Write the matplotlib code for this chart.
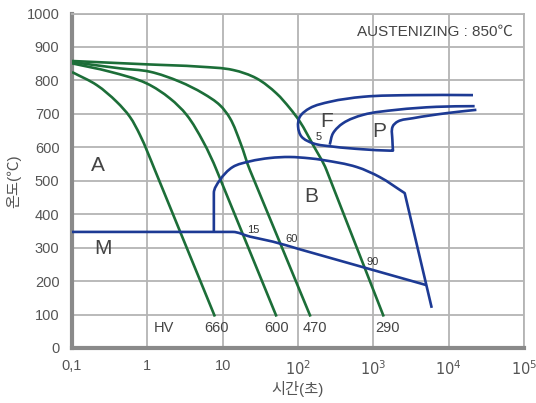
#!/usr/bin/env python3

import numpy as np
import matplotlib
matplotlib.use("Agg")
import matplotlib.pyplot as plt
from matplotlib.path import Path
from matplotlib.patches import PathPatch
from matplotlib.ticker import FixedLocator, NullLocator

matplotlib.rcParams["font.family"] = ["Liberation Sans", "Noto Sans CJK KR", "DejaVu Sans"]

green = "#1c6e38"
blue = "#1d3a94"
gray = "#555555"

# cooling curves (time s, temperature C)
t_290 = [0.1, 0.98, 4.99, 13.8, 28.2, 51.9, 77.8, 105.7, 158.5, 238.8, 1374]
T_290 = [858, 848, 841, 831, 806, 761, 717, 677, 607, 532, 94]
t_470 = [0.1, 0.434, 1.08, 2.70, 5.51, 9.18, 12.5, 17.3, 23.0, 146.6]
T_470 = [855, 836, 826, 796, 761, 726, 687, 612, 532, 94]
t_600 = [0.1, 0.319, 0.98, 2.0, 3.32, 5.51, 8.30, 51.9]
T_600 = [851, 826, 791, 746, 697, 617, 532, 94]
t_660 = [0.1, 0.213, 0.392, 0.587, 0.798, 1.26, 7.89]
T_660 = [825, 786, 736, 691, 637, 532, 94]

# transformation lines
t_ms = [0.1, 13.6, 23.0, 46.3, 105.7, 5058]
T_ms = [347, 347, 333, 318, 295, 188]
t_bain = [7.64, 7.64, 9.18, 13.6, 23.0, 42.3, 77.8, 143.5, 213, 603, 1216, 2610, 5058, 5957]
T_bain = [347, 463, 502, 541, 558, 568, 571, 567, 562, 541, 511, 463, 188, 120]
t_ferr = [21040, 3365, 731, 264, 143.5, 105.7, 100.3, 111.3, 158.5, 292, 731, 1651,
          1824, 1791, 1806, 2108, 3365, 9330, 23330]
T_ferr = [756, 756, 751, 736, 717, 691, 662, 632, 612, 602, 594, 590,
          590, 622, 662, 677, 687, 702, 712]
t_pear = [264, 292, 396, 731, 2028, 6871, 22130]
T_pear = [608, 642, 672, 697, 712, 721, 723]

xticks = [0.1, 1, 10, 1e2, 1e3, 1e4, 1e5]
xlabels = ["0,1", "1", "10", "$10^2$", "$10^3$", "$10^4$", "$10^5$"]
yticks = list(range(0, 1001, 100))

hv_labels = ["HV", "660", "600", "470", "290"]
hv_x = [1.66, 8.38, 52.4, 167, 1528]


def unit(v):
    n = np.hypot(v[0], v[1])
    return v / n if n > 0 else v


def smooth(t, T, straight=(), corners=()):
    # bezier through the read points, built in (log t, scaled T) space
    P = np.column_stack([np.log10(t), np.asarray(T, float) / 225.0])
    n = len(P)
    e = [unit(P[i + 1] - P[i]) for i in range(n - 1)]
    L = [np.hypot(*(P[i + 1] - P[i])) for i in range(n - 1)]
    tin = [None] * n
    tout = [None] * n
    for i in range(n):
        if i == 0:
            tin[i] = tout[i] = e[0]
        elif i == n - 1:
            tin[i] = tout[i] = e[-1]
        elif i in corners:
            tin[i], tout[i] = e[i - 1], e[i]
        elif (i - 1) in straight:
            tin[i] = tout[i] = e[i - 1]
        elif i in straight:
            tin[i] = tout[i] = e[i]
        else:
            tin[i] = tout[i] = unit(e[i - 1] + e[i])
    verts = [P[0]]
    codes = [Path.MOVETO]
    for i in range(n - 1):
        if i in straight:
            verts.append(P[i + 1])
            codes.append(Path.LINETO)
        else:
            verts += [P[i] + tout[i] * L[i] / 3, P[i + 1] - tin[i + 1] * L[i] / 3, P[i + 1]]
            codes += [Path.CURVE4] * 3
    verts = np.array(verts)
    verts = np.column_stack([10 ** verts[:, 0], verts[:, 1] * 225.0])
    return Path(verts, codes)


def main():
    fig = plt.figure(figsize=(5.36, 4.03), dpi=100)
    ax = fig.add_axes([0.1343, 0.1365, 0.8433, 0.830])

    ax.set_xscale("log")
    ax.set_xlim(0.1, 1e5)
    ax.set_ylim(0, 1000)

    lw = 1.9
    curves = [
        (t_290, T_290, green, {len(t_290) - 2}, ()),
        (t_470, T_470, green, {len(t_470) - 2}, ()),
        (t_600, T_600, green, {len(t_600) - 2}, ()),
        (t_660, T_660, green, {len(t_660) - 2}, ()),
        (t_ms, T_ms, blue, {0, len(t_ms) - 2}, ()),
        (t_bain, T_bain, blue, {0, 11, 12}, {11, 12}),
        (t_ferr, T_ferr, blue, set(), {12}),
        (t_pear, T_pear, blue, set(), ()),
    ]
    for t, T, c, st, co in curves:
        ax.add_patch(PathPatch(smooth(t, T, st, co), fill=False, edgecolor=c,
                               linewidth=lw, capstyle="butt", joinstyle="round",
                               zorder=4 if c == blue else 3))

    ax.xaxis.set_major_locator(FixedLocator(xticks))
    ax.xaxis.set_minor_locator(NullLocator())
    ax.set_xticklabels(xlabels)
    ax.set_yticks(yticks)
    ax.tick_params(length=0, labelsize=10.5, colors=gray)
    ax.tick_params(axis="x", pad=8)
    ax.tick_params(axis="y", pad=9)

    ax.grid(True, color="#b4b4b4", linewidth=1.3)
    ax.set_axisbelow(True)
    for side in ["top", "right"]:
        ax.spines[side].set_color("#b4b4b4")
        ax.spines[side].set_linewidth(1.3)
    for side in ["left", "bottom"]:
        ax.spines[side].set_color("#8a8a8a")
        ax.spines[side].set_linewidth(3)

    ax.set_ylabel("온도(℃)", fontsize=11, color=gray, labelpad=4)
    ax.set_xlabel("시간(초)", fontsize=11, color=gray, labelpad=2)

    big = dict(fontsize=15, color="#444444", ha="center", va="center")
    ax.text(0.221, 547, "A", **big)
    ax.text(0.26, 298, "M", **big)
    ax.text(148, 452, "B", **big)
    ax.text(239, 677, "F", **big)
    ax.text(1216, 647, "P", **big)

    small = dict(fontsize=8, color="#333333", ha="center", va="center")
    ax.text(190, 632, "5", **small)
    ax.text(25.4, 353, "15", **small)
    ax.text(82, 326, "60", **small)
    ax.text(990, 258, "90", **small)

    for x, s in zip(hv_x, hv_labels):
        ax.text(x, 60, s, fontsize=10.5, color="#444444", ha="center", va="center")

    ax.text(7.06e4, 946, "AUSTENIZING : 850℃", fontsize=11, color="#444444",
            ha="right", va="center")

    fig.savefig("out.png", dpi=100)


if __name__ == "__main__":
    main()
